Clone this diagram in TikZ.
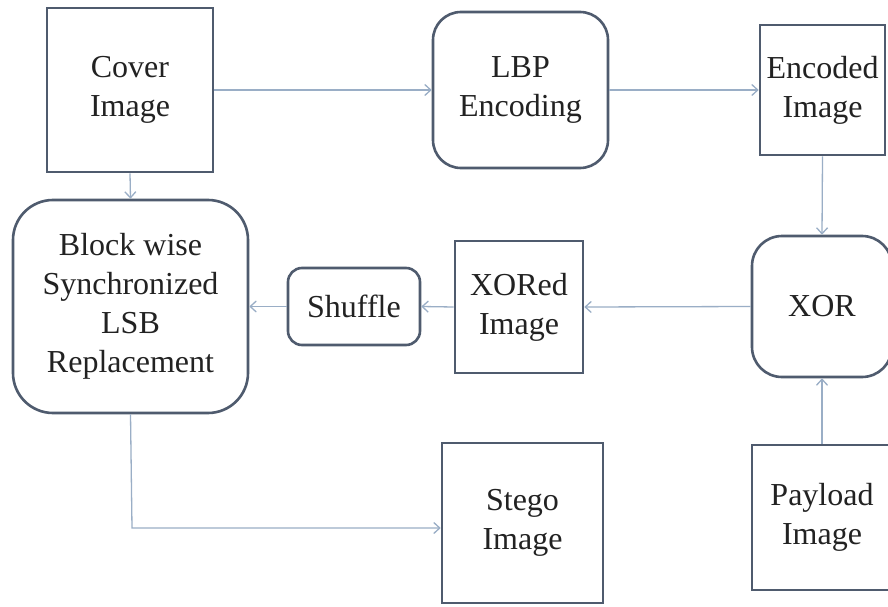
\documentclass[tikz,border=0pt]{standalone}
\usepackage{fontspec}
\setmainfont{Liberation Serif}
\newfontfamily\diagfont{Liberation Serif}
\usetikzlibrary{arrows.meta}
\definecolor{boxline}{HTML}{4F5B6E}
\definecolor{arrowline}{HTML}{9AAEC6}
\definecolor{txt}{HTML}{222222}
\tikzset{
  sqbox/.style={draw=boxline, line width=2.6pt, fill=white, text=txt, align=center, inner sep=0pt,
    font=\diagfont\fontsize{32}{39}\selectfont},
  rbox/.style={sqbox, rounded corners=#1},
  rbox/.default=28pt,
  flow/.style={draw=arrowline, line width=1.3pt, -{Straight Barb[length=6pt,width=11pt]}},
}
\begin{document}
\begin{tikzpicture}[x=1pt,y=-1pt]
\useasboundingbox (0,0) rectangle (888,607);
\fill[white] (0,0) rectangle (888,607);
% nodes (pixel coordinates, y downwards)
\node[sqbox, minimum width=166pt, minimum height=164pt] (cover) at (130,90) {Cover\\Image};
\node[rbox, minimum width=175pt, minimum height=156pt] (lbp) at (520.5,90) {LBP\\Encoding};
\node[sqbox, minimum width=125pt, minimum height=130pt] (enc) at (822.5,90) {Encoded\\Image};
\node[rbox=40pt, minimum width=235pt, minimum height=213pt] (blk) at (130.5,306.5) {Block wise\\Synchronized\\LSB\\Replacement};
\node[rbox=14pt, minimum width=132pt, minimum height=77pt] (shf) at (354,306.5) {Shuffle};
\node[sqbox, minimum width=128pt, minimum height=132pt] (xored) at (519,307) {XORed\\Image};
\node[rbox=30pt, minimum width=140pt, minimum height=141pt] (xor) at (822,306.5) {XOR};
\node[sqbox, minimum width=140pt, minimum height=145pt] (pay) at (822,517.5) {Payload\\Image};
\node[sqbox, minimum width=161pt, minimum height=160pt] (stego) at (522.5,523) {Stego\\Image};
% connectors
\draw[flow] (cover.east) -- (lbp.west);
\draw[flow] (lbp.east) -- (enc.west);
\draw[flow] (enc.south) -- (xor.north);
\draw[flow] (xor.west) -- (xored.east);
\draw[flow] (xored.west) -- (shf.east);
\draw[flow] (shf.west) -- (blk.east |- shf.west);
\draw[flow] (cover.south) -- (blk.north);
\draw[flow] (pay.north) -- (xor.south);
\coordinate (bend) at (132,528);
\draw[flow] (blk.south) -- (bend) -- (stego.west |- bend);
\end{tikzpicture}
\end{document}
